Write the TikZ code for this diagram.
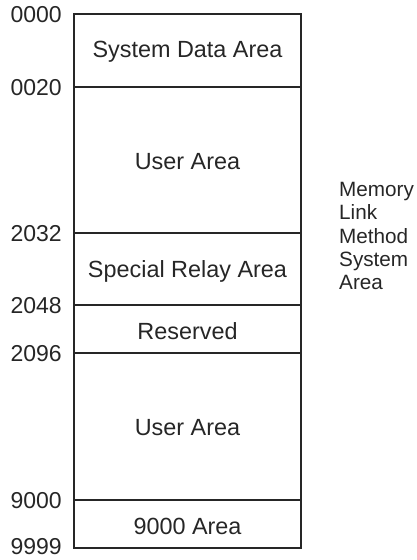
\documentclass[tikz,border=0pt]{standalone}
\usepackage{fontspec}
\setmainfont{Liberation Sans}
\definecolor{ink}{HTML}{262626}
\begin{document}
\begin{tikzpicture}[x=1pt,y=-1pt,
  cell/.style={text=ink,font=\fontsize{23.4}{28}\selectfont,inner sep=0pt},
  addr/.style={text=ink,font=\fontsize{23}{28}\selectfont,anchor=east,inner sep=0pt},
  note/.style={text=ink,font=\fontsize{20.7}{23.3}\selectfont,align=left,anchor=north west,inner sep=0pt},
  frame/.style={draw=ink,line width=1.2pt},
  divider/.style={draw=ink,line width=1.4pt}]
\useasboundingbox (0,0) rectangle (416,560);
% boundaries
\coordinate (l0) at (74,14);   \coordinate (r0) at (301,14);
\coordinate (l1) at (74,87);   \coordinate (r1) at (301,87);
\coordinate (l2) at (74,233);  \coordinate (r2) at (301,233);
\coordinate (l3) at (74,305);  \coordinate (r3) at (301,305);
\coordinate (l4) at (74,353);  \coordinate (r4) at (301,353);
\coordinate (l5) at (74,500);  \coordinate (r5) at (301,500);
\coordinate (l6) at (74,548);  \coordinate (r6) at (301,548);
\draw[frame] (l0) rectangle (r6);
\draw[divider] (l1) -- (r1);
\draw[divider] (l2) -- (r2);
\draw[divider] (l3) -- (r3);
\draw[divider] (l4) -- (r4);
\draw[divider] (l5) -- (r5);
% cell texts
\node[cell] (sys) at (187.5,52) {System Data Area};
\node[cell] (user1) at (187.5,162) {User Area};
\node[cell] (srel) at (187.5,271) {Special Relay Area};
\node[cell] (res) at (187.5,331) {Reserved};
\node[cell] (user2) at (187.5,428) {User Area};
\node[cell] (a9000) at (187.5,526) {9000 Area};
% address labels
\node[addr] (a0) at (62,15) {0000};
\node[addr] (a1) at (62,88) {0020};
\node[addr] (a2) at (62,234) {2032};
\node[addr] (a3) at (62,306) {2048};
\node[addr] (a4) at (62,354) {2096};
\node[addr] (a5) at (62,501) {9000};
\node[addr] (a6) at (62,547) {9999};
% side note
\node[note] (mlm) at (339,182) {Memory\\Link\\Method\\System\\Area};
\end{tikzpicture}
\end{document}
